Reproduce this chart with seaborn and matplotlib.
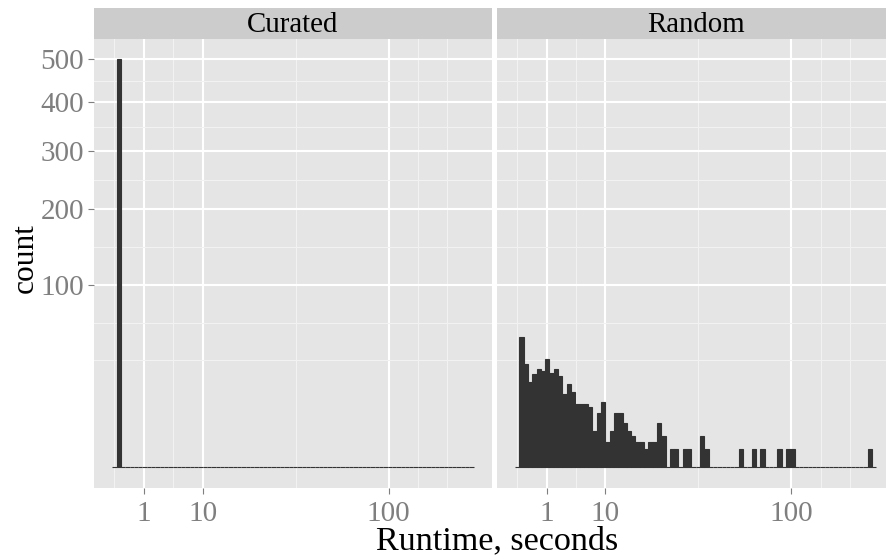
import numpy as np
import pandas as pd
import matplotlib
matplotlib.use("Agg")
import matplotlib.pyplot as plt
from matplotlib.ticker import FixedLocator, NullFormatter
import seaborn as sns

# ---------------- data ----------------
facets = ["Curated", "Random"]
bin_width_sqrt = 0.1582          # histogram bin width on the sqrt(seconds) scale
first_bin_index = -1             # bins run from index -1 to 82
curated_counts = [0, 500, 0, 0, 0, 0, 0, 0, 0, 0, 0, 0, 0, 0, 0, 0, 0, 0, 0, 0,
                  0, 0, 0, 0, 0, 0, 0, 0, 0, 0, 0, 0, 0, 0, 0, 0, 0, 0, 0, 0,
                  0, 0, 0, 0, 0, 0, 0, 0, 0, 0, 0, 0, 0, 0, 0, 0, 0, 0, 0, 0,
                  0, 0, 0, 0, 0, 0, 0, 0, 0, 0, 0, 0, 0, 0, 0, 0, 0, 0, 0, 0,
                  0, 0, 0, 0]
random_counts = [0, 51, 32, 22, 26, 29, 28, 35, 27, 29, 25, 16, 21, 17, 12, 12, 12, 11, 4, 9,
                 13, 2, 4, 9, 9, 6, 4, 3, 2, 2, 1, 2, 2, 6, 3, 0, 1, 1, 0, 1,
                 1, 0, 0, 3, 1, 0, 0, 0, 0, 0, 0, 0, 1, 0, 0, 1, 0, 1, 0, 0,
                 0, 1, 0, 1, 1, 0, 0, 0, 0, 0, 0, 0, 0, 0, 0, 0, 0, 0, 0, 0,
                 0, 0, 1, 0]
x_ticks = [1, 10, 100]
x_tick_labels = ["1", "10", "100"]
y_ticks = [100, 200, 300, 400, 500]
y_tick_labels = ["100", "200", "300", "400", "500"]
x_title = "Runtime, seconds"
y_title = "count"

# ---------------- helpers ----------------
def fwd(v):
    v = np.asarray(v, dtype=float)
    return np.sign(v) * np.sqrt(np.abs(v))

def inv(v):
    v = np.asarray(v, dtype=float)
    return np.sign(v) * v ** 2

def minor_breaks(majors, lo, hi):
    b = list(fwd(majors))
    bd = b[1] - b[0]
    if lo < b[0]:
        b = [b[0] - bd] + b
    if hi > b[-1]:
        b = b + [b[-1] + bd]
    out = []
    for a, c in zip(b[:-1], b[1:]):
        out += [a, (a + c) / 2, c]
    out = [v for v in out if lo <= v <= hi]
    return list(inv(np.array(out)))

n_bins = len(random_counts)
k = np.arange(first_bin_index, first_bin_index + n_bins + 1)
edges_s = [float(e) for e in k * bin_width_sqrt]          # bin edges on sqrt scale
centers = inv((k[:-1] + 0.5) * bin_width_sqrt)            # bin centres in seconds

# ggplot-like expanded limits on sqrt scale
xr = edges_s[-1] - edges_s[0]
xlim_s = (edges_s[0] - 0.05 * xr, edges_s[-1] + 0.05 * xr)
ymax_s = float(np.sqrt(max(max(curated_counts), max(random_counts))))
ylim_s = (-0.05 * ymax_s, ymax_s * 1.05)

# ---------------- style ----------------
plt.rcParams["font.family"] = ["Liberation Serif", "DejaVu Serif"]
W, H = 886, 559
fig = plt.figure(figsize=(W / 100, H / 100), dpi=100)
fig.patch.set_facecolor("white")

panel_top, panel_bot = 39, 487.7
panels = [(94.3, 491.7), (497.0, 894.4)]
strip_h = 31

for i, (name, counts) in enumerate(zip(facets, [curated_counts, random_counts])):
    df = pd.DataFrame({"runtime": centers, "count": counts})
    x0, x1 = panels[i]
    ax = fig.add_axes([x0 / W, (H - panel_bot) / H, (x1 - x0) / W, (panel_bot - panel_top) / H])
    ax.set_facecolor("#E5E5E5")
    ax.set_xscale("function", functions=(fwd, inv))
    ax.set_yscale("function", functions=(fwd, inv))
    sns.histplot(data=df, x="runtime", weights="count", bins=edges_s, ax=ax,
                 color="#333333", edgecolor="#333333", linewidth=0.8,
                 alpha=1, stat="count", element="bars", fill=True)
    ax.set_xlim(float(inv(xlim_s[0])), float(inv(xlim_s[1])))
    ax.set_ylim(float(inv(ylim_s[0])), float(inv(ylim_s[1])))

    ax.xaxis.set_major_locator(FixedLocator(x_ticks))
    ax.set_xticklabels(x_tick_labels)
    ax.yaxis.set_major_locator(FixedLocator(y_ticks))
    ax.set_yticklabels(y_tick_labels)
    ax.xaxis.set_minor_locator(FixedLocator(minor_breaks(x_ticks, *xlim_s)))
    ax.yaxis.set_minor_locator(FixedLocator(minor_breaks(y_ticks, *ylim_s)))
    ax.xaxis.set_minor_formatter(NullFormatter())
    ax.yaxis.set_minor_formatter(NullFormatter())

    ax.set_axisbelow(True)
    ax.grid(which="minor", color="#F2F2F2", linewidth=0.8)
    ax.grid(which="major", color="white", linewidth=1.5)
    for s in ax.spines.values():
        s.set_visible(False)
    ax.tick_params(which="minor", length=0)
    ax.tick_params(which="major", length=4.5, width=0.8, color="#7F7F7F",
                   labelcolor="#7F7F7F", labelsize=21)
    ax.tick_params(axis="x", pad=5)
    ax.tick_params(axis="y", pad=3)
    ax.set_xlabel("")
    ax.set_ylabel("")
    if i == 1:
        ax.tick_params(axis="y", left=False, labelleft=False)

    sax = fig.add_axes([x0 / W, (H - panel_top) / H, (x1 - x0) / W, strip_h / H])
    sax.set_facecolor("#CCCCCC")
    sax.set_xticks([])
    sax.set_yticks([])
    for s in sax.spines.values():
        s.set_visible(False)
    sax.text(0.5, 0.45, name, ha="center", va="center", fontsize=20.8,
             color="black", transform=sax.transAxes)

fig.text(497 / W, 1 - 541 / H, x_title, ha="center", va="center", fontsize=24.6, color="black")
fig.text(25 / W, 1 - 258 / H, y_title, ha="center", va="center", rotation=90, fontsize=22.6, color="black")

fig.savefig("out.png", dpi=100)
